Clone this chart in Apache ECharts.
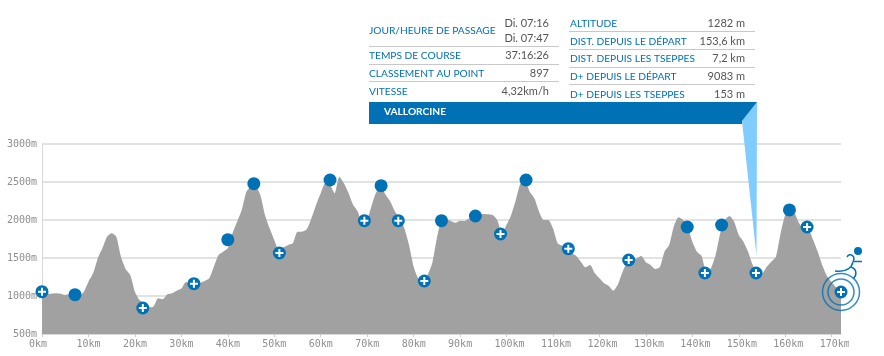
<!DOCTYPE html>
<html>
<head>
<meta charset="utf-8">
<style>
  html, body { margin: 0; padding: 0; background: #fff; }
  #profile { width: 884px; height: 356px; }
</style>
</head>
<body>
<div id="profile"></div>
<script src="https://cdn.jsdelivr.net/npm/echarts@6/dist/echarts.min.js"></script>
<script>
// altitude (m), one value per km from km 0 to km 172
const altitudes = [
  1026, 1030, 1030, 1035, 1030, 1013, 1026, 1008, 1008, 1057,
  1189, 1298, 1495, 1627, 1780, 1825, 1780, 1517, 1355, 1276,
  1057, 947, 903, 851, 860, 969, 956, 1022, 1035, 1070,
  1100, 1189, 1145, 1175, 1175, 1197, 1232, 1386, 1539, 1583,
  1627, 1825, 1978, 2132, 2373, 2439, 2439, 2329, 2066, 1890,
  1737, 1605, 1640, 1671, 1693, 1846, 1846, 1877, 2022, 2197,
  2351, 2482, 2460, 2351, 2570, 2482, 2351, 2197, 2110, 1934,
  2000, 2197, 2373, 2417, 2329, 2241, 2110, 2022, 1890, 1671,
  1386, 1232, 1189, 1276, 1430, 1759, 2000, 2009, 1987, 1965,
  1991, 1987, 2022, 1978, 2044, 2079, 2075, 2066, 2000, 1825,
  1934, 2066, 2263, 2482, 2504, 2373, 2285, 2110, 2000, 2000,
  1890, 1693, 1658, 1605, 1561, 1526, 1452, 1377, 1408, 1298,
  1232, 1167, 1132, 1070, 1158, 1320, 1452, 1474, 1495, 1526,
  1443, 1408, 1355, 1377, 1583, 1671, 1912, 2035, 2000, 1912,
  1715, 1583, 1526, 1320, 1364, 1539, 1825, 2000, 2053, 1978,
  1803, 1715, 1583, 1408, 1298, 1298, 1386, 1452, 1518, 1825,
  2066, 2110, 2088, 1956, 1868, 1868, 1737, 1583, 1400, 1260,
  1180, 1110, 1050
];
// ravitaillements: km, altitude
const aidKm = [0, 21.7, 32.7, 51.1, 69.4, 76.7, 82.3, 98.7, 113.3, 126.3, 142.7, 153.7, 164.7, 172];
const aidAlt = [1057, 842, 1162, 1566, 1991, 1991, 1197, 1816, 1623, 1474, 1303, 1303, 1908, 1053];
// points de passage sans ravitaillement
const stopKm = [7.1, 40, 45.6, 62, 73, 86, 93.3, 104.2, 138.9, 146.3, 160.9];
const stopAlt = [1017, 1741, 2478, 2526, 2452, 1991, 2053, 2526, 1908, 1934, 2132];
const finish = [[172, 1053]];

const leftLabels = ['TEMPS DE COURSE', 'CLASSEMENT AU POINT', 'VITESSE'];
const leftValues = ['37:16:26', '897', '4,32km/h'];
const rightLabels = ['ALTITUDE', 'DIST. DEPUIS LE DÉPART', 'DIST. DEPUIS LES TSEPPES', 'D+ DEPUIS LE DÉPART', 'D+ DEPUIS LES TSEPPES'];
const rightValues = ['1282 m', '153,6 km', '7,2 km', '9083 m', '153 m'];
const passLabel = 'JOUR/HEURE DE PASSAGE';
const passTimes = ['Di. 07:16', 'Di. 07:47'];
const placeName = 'VALLORCINE';

const BLUE = '#0071b5';
const AXIS_GREY = '#8f8f8f';
const AXIS_FONT = '"DejaVu Sans Mono", monospace';
const PANEL_FONT = 'Lato, "Open Sans", sans-serif';
const LABEL_FONT = '10.2px ' + PANEL_FONT;
const VALUE_FONT = '11px ' + PANEL_FONT;
const PLUS = 'path://M3,0H5V3H8V5H5V8H3V5H0V3H3Z';

const chart = echarts.init(document.getElementById('profile'), null, { renderer: 'canvas' });

function panelText(x, y, text, color, align, font) {
  return {
    type: 'text', x: x, y: y + 0.7, z: 20,
    style: {
      text: text, fill: color, font: font,
      textAlign: align, textVerticalAlign: 'middle'
    }
  };
}
function rule(x1, x2, y) {
  return {
    type: 'line', z: 20, silent: true,
    shape: { x1: x1, y1: y, x2: x2, y2: y },
    style: { stroke: '#c8c8c8', lineWidth: 1 }
  };
}
function stroke() {
  return { fill: 'none', stroke: BLUE, lineWidth: 1.5 };
}

const panel = [];
panel.push(panelText(369, 30, passLabel, BLUE, 'left', LABEL_FONT));
panel.push(panelText(549, 23, passTimes[0], '#555', 'right', VALUE_FONT));
panel.push(panelText(549, 38, passTimes[1], '#555', 'right', VALUE_FONT));
[55, 73, 91].forEach(function (y, i) {
  panel.push(panelText(369, y, leftLabels[i], BLUE, 'left', LABEL_FONT));
  panel.push(panelText(549, y, leftValues[i], '#555', 'right', VALUE_FONT));
});
[23, 41, 58, 76, 94].forEach(function (y, i) {
  panel.push(panelText(570, y, rightLabels[i], BLUE, 'left', LABEL_FONT));
  panel.push(panelText(745, y, rightValues[i], '#555', 'right', VALUE_FONT));
});
[46.5, 64.5, 81.5].forEach(function (y) { panel.push(rule(369, 559, y)); });
[31.5, 49.5, 67.5, 84.5].forEach(function (y) { panel.push(rule(569, 755, y)); });

// bandeau du point et pointeur vers le profil
panel.push({
  type: 'polygon', z: 18, silent: true,
  shape: { points: [[742, 121], [757, 102], [756.5, 256]] },
  style: { fill: '#80ccff' }
});
panel.push({
  type: 'polygon', z: 19, silent: true,
  shape: { points: [[369, 102], [757, 102], [742, 121], [742, 124], [369, 124]] },
  style: { fill: BLUE }
});
panel.push(panelText(384, 111, placeName, '#fff', 'left', 'bold 10.2px ' + PANEL_FONT));

// coureur a l'arrivee
panel.push({
  type: 'circle', z: 20, silent: true,
  shape: { cx: 858, cy: 251, r: 4 },
  style: { fill: BLUE }
});
panel.push({
  type: 'bezierCurve', z: 20, silent: true,
  shape: { x1: 835, y1: 271, cpx1: 843, cpy1: 272, cpx2: 851, cpy2: 270, x2: 853, y2: 262 },
  style: stroke()
});
panel.push({
  type: 'bezierCurve', z: 20, silent: true,
  shape: { x1: 853, y1: 262, cpx1: 856, cpy1: 256, cpx2: 850, cpy2: 252, x2: 847, y2: 257 },
  style: stroke()
});
panel.push({
  type: 'line', z: 20, silent: true,
  shape: { x1: 854, y1: 261.5, x2: 862, y2: 261.5 },
  style: stroke()
});
panel.push({
  type: 'bezierCurve', z: 20, silent: true,
  shape: { x1: 851, y1: 267, cpx1: 857, cpy1: 269, cpx2: 857, cpy2: 275, x2: 853.5, y2: 278.5 },
  style: stroke()
});
// le libelle 170km est coupe par le bord du cadre d'origine
panel.push({
  type: 'rect', z: 30, silent: true,
  shape: { x: 849, y: 337, width: 30, height: 14 },
  style: { fill: '#fff' }
});

chart.setOption({
  animation: false,
  backgroundColor: '#fff',
  grid: { left: 42, right: 43, top: 144, bottom: 22, outerBoundsMode: 'none' },
  xAxis: {
    type: 'value', min: 0, max: 172, interval: 10,
    axisLine: { lineStyle: { color: '#d8d8d8' } },
    axisTick: { length: 3, lineStyle: { color: '#ccc' } },
    splitLine: { show: false },
    axisLabel: {
      margin: 5,
      showMaxLabel: false,
      formatter: function (v) { return (v === 0 ? '{z|' : '{t|') + v + 'km}'; },
      rich: {
        t: { width: 24, align: 'left', color: AXIS_GREY, fontFamily: AXIS_FONT, fontSize: 10 },
        z: { width: 26, align: 'left', color: AXIS_GREY, fontFamily: AXIS_FONT, fontSize: 10 }
      }
    }
  },
  yAxis: {
    type: 'value', min: 500, max: 3000, interval: 500,
    axisLine: { show: true, lineStyle: { color: '#d8d8d8' } },
    axisTick: { show: false },
    splitLine: { lineStyle: { color: '#e2e2e2', width: 2 } },
    axisLabel: {
      margin: 5,
      padding: [0, 0, 6, 0],
      color: AXIS_GREY,
      fontFamily: AXIS_FONT,
      fontSize: 10,
      formatter: function (v) { return v + 'm'; }
    }
  },
  series: [
    {
      name: 'profil', type: 'line', showSymbol: false, silent: true, z: 2,
      smooth: 0.2,
      data: altitudes.map(function (a, km) { return [km, a]; }),
      lineStyle: { width: 0 },
      areaStyle: { color: '#a1a1a1', opacity: 1 }
    },
    {
      name: 'anneaux', type: 'scatter', silent: true, z: 3,
      data: finish, symbolSize: 37,
      itemStyle: { color: 'rgba(0,0,0,0)', borderColor: BLUE, borderWidth: 1.5 }
    },
    {
      name: 'anneaux2', type: 'scatter', silent: true, z: 3,
      data: finish, symbolSize: 26,
      itemStyle: { color: 'rgba(0,0,0,0)', borderColor: BLUE, borderWidth: 1.5 }
    },
    {
      name: 'points', type: 'scatter', silent: true, z: 4,
      data: stopKm.map(function (km, i) { return [km, stopAlt[i]]; }),
      symbolSize: 13, itemStyle: { color: BLUE, opacity: 1 }
    },
    {
      name: 'ravitos', type: 'scatter', silent: true, z: 4,
      data: aidKm.map(function (km, i) { return [km, aidAlt[i]]; }),
      symbolSize: 13, itemStyle: { color: BLUE, opacity: 1 }
    },
    {
      name: 'ravitos-croix', type: 'scatter', silent: true, z: 5,
      data: aidKm.map(function (km, i) { return [km, aidAlt[i]]; }),
      symbol: PLUS, symbolSize: 8, itemStyle: { color: '#fff', opacity: 1 }
    }
  ],
  graphic: { elements: panel }
});
</script>
</body>
</html>
